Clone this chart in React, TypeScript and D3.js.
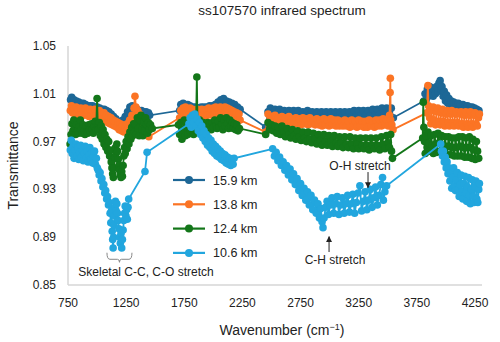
import React from 'react';
import * as d3 from 'd3';

// Infrared spectrum of particle ss107570 at four altitudes.

const WIDTH = 500;
const HEIGHT = 342;
const X_RANGE = [68, 475];
const Y_RANGE = [285, 46];

const X_TICKS = [750, 1250, 1750, 2250, 2750, 3250, 3750, 4250];
const Y_TICKS = [0.85, 0.89, 0.93, 0.97, 1.01, 1.05];

const SERIES_NAMES = ['15.9 km', '13.8 km', '12.4 km', '10.6 km'];
const SERIES_COLORS = ['#1d6796', '#fb7424', '#137619', '#22a6de'];

// [wavenumber, transmittance]
const KM_15_9: [number, number][] = [
  [772, 1.005], [782, 1.007], [792, 1.002], [802, 1.005], [812, 1.0], [822, 1.004], [832, 0.999], [842, 1.003],
  [852, 0.998], [862, 1.002], [872, 0.998], [882, 1.002], [892, 0.997], [902, 1.001], [912, 0.997], [922, 1.0],
  [932, 0.996], [942, 1.0], [952, 0.996], [962, 1.0], [972, 0.995], [982, 0.999], [992, 0.995], [1002, 0.999],
  [1012, 0.994], [1022, 0.998], [1032, 0.994], [1042, 0.997], [1052, 0.993], [1062, 0.997], [1072, 0.992],
  [1082, 0.996], [1092, 0.991], [1102, 0.995], [1112, 0.99], [1122, 0.993], [1132, 0.988], [1142, 0.991],
  [1152, 0.986], [1162, 0.989], [1172, 0.984], [1182, 0.987], [1192, 0.982], [1202, 0.986], [1212, 0.983],
  [1222, 0.988], [1232, 0.986], [1242, 0.991], [1252, 0.989], [1262, 0.995], [1272, 0.993], [1282, 0.999],
  [1292, 0.996], [1302, 1.0], [1312, 0.995], [1322, 0.998], [1332, 0.993], [1342, 0.997], [1352, 0.993],
  [1362, 0.996], [1372, 0.992], [1382, 0.996], [1392, 0.992], [1402, 0.995], [1412, 0.991], [1422, 0.995],
  [1432, 0.991], [1442, 0.994], [1452, 0.992],
  [1710, 0.996], [1720, 1.001], [1730, 0.997], [1740, 1.002], [1750, 0.997], [1760, 1.001], [1770, 0.997],
  [1780, 1.001], [1790, 0.996], [1800, 1.0], [1812, 0.996], [1824, 0.999], [1836, 0.995], [1848, 0.999],
  [1860, 0.995], [1872, 0.998], [1884, 0.995], [1896, 0.999], [1908, 0.995], [1920, 0.999], [1932, 0.995],
  [1944, 0.999], [1956, 0.996], [1968, 1.0], [1980, 0.996], [1992, 1.0], [2004, 0.996], [2016, 1.001],
  [2028, 0.997], [2040, 1.003], [2052, 0.998], [2064, 1.005], [2076, 0.999], [2088, 1.006], [2100, 1.0],
  [2112, 1.004], [2124, 0.999], [2136, 1.003], [2148, 0.998], [2160, 1.002], [2172, 0.997], [2184, 1.001],
  [2196, 0.996], [2208, 0.999], [2220, 0.995], [2230, 0.997],
  [2450, 0.982], [2470, 0.995], [2490, 0.998], [2510, 0.994], [2530, 0.997], [2550, 0.993], [2570, 0.997],
  [2590, 0.993], [2610, 0.996], [2630, 0.993], [2650, 0.996], [2670, 0.992], [2690, 0.996], [2710, 0.992],
  [2730, 0.996], [2750, 0.992], [2770, 0.995], [2790, 0.992], [2810, 0.996], [2830, 0.992], [2850, 0.995],
  [2870, 0.991], [2890, 0.995], [2910, 0.991], [2930, 0.995], [2950, 0.991], [2970, 0.995], [2990, 0.991],
  [3010, 0.995], [3030, 0.991], [3050, 0.995], [3070, 0.991], [3090, 0.995], [3110, 0.991], [3130, 0.995],
  [3150, 0.991], [3170, 0.995], [3190, 0.991], [3210, 0.996], [3230, 0.992], [3250, 0.996], [3270, 0.992],
  [3290, 0.996], [3310, 0.992], [3330, 0.996], [3350, 0.992], [3370, 0.997], [3390, 0.992], [3410, 0.997],
  [3430, 0.993], [3450, 0.998], [3470, 0.993], [3490, 0.998], [3510, 0.994], [3530, 0.998], [3548, 0.99],
  [3810, 1.004], [3820, 1.01], [3830, 1.005], [3840, 1.014], [3850, 1.008], [3860, 1.016], [3870, 1.009],
  [3880, 1.015], [3890, 1.008], [3900, 1.014], [3910, 1.01], [3920, 1.016], [3930, 1.012], [3940, 1.019],
  [3950, 1.021], [3958, 1.013], [3966, 1.016], [3976, 1.008], [3986, 1.012], [3996, 1.004], [4006, 1.009],
  [4016, 1.002], [4026, 1.006], [4036, 1.0], [4046, 1.004], [4056, 0.998], [4066, 1.003], [4076, 0.998],
  [4086, 1.002], [4096, 0.997], [4106, 1.002], [4116, 0.997], [4126, 1.001], [4136, 0.996], [4146, 1.001],
  [4156, 0.996], [4166, 1.0], [4176, 0.995], [4186, 1.0], [4196, 0.995], [4206, 0.999], [4216, 0.995],
  [4226, 0.999], [4236, 0.994], [4246, 0.998], [4256, 0.994], [4266, 0.997], [4276, 0.993], [4284, 0.996],
];

const KM_13_8: [number, number][] = [
  [770, 0.996], [780, 1.0], [790, 0.994], [800, 0.998], [810, 0.993], [820, 0.999], [830, 0.994], [840, 0.997],
  [850, 0.992], [860, 0.998], [870, 0.993], [880, 0.997], [890, 0.992], [900, 0.998], [910, 0.993], [920, 0.996],
  [930, 0.991], [940, 0.997], [950, 0.992], [960, 0.996], [970, 0.991], [980, 0.997], [990, 0.992], [1000, 0.995],
  [1010, 0.99], [1020, 0.996], [1030, 0.99], [1040, 0.994], [1050, 0.989], [1060, 0.994], [1070, 0.988],
  [1080, 0.992], [1090, 0.986], [1100, 0.991], [1110, 0.985], [1120, 0.99], [1130, 0.984], [1140, 0.988],
  [1150, 0.983], [1160, 0.987], [1170, 0.982], [1180, 0.986], [1190, 0.98], [1200, 0.985], [1210, 0.979],
  [1220, 0.984], [1230, 0.978], [1240, 0.983], [1250, 0.979], [1260, 0.985], [1270, 0.982], [1280, 0.988],
  [1290, 0.986], [1300, 0.992], [1310, 0.99], [1318, 0.998], [1326, 1.008], [1334, 0.999], [1342, 0.992],
  [1350, 0.996], [1358, 0.988], [1366, 0.993], [1374, 0.985], [1382, 0.99], [1390, 0.982], [1400, 0.986],
  [1410, 0.979], [1420, 0.983], [1430, 0.976], [1445, 0.974],
  [1710, 0.99], [1720, 0.996], [1730, 0.992], [1740, 0.998], [1750, 0.993], [1760, 0.999], [1770, 0.994],
  [1780, 0.997], [1790, 0.992], [1800, 0.998], [1810, 0.993], [1820, 0.997], [1830, 0.992], [1840, 0.996],
  [1850, 0.991], [1860, 0.997], [1870, 0.992], [1880, 0.996], [1890, 0.991], [1900, 0.997], [1910, 0.992],
  [1920, 0.996], [1930, 0.991], [1940, 0.997], [1950, 0.992], [1960, 0.998], [1970, 0.993], [1980, 0.997],
  [1990, 0.992], [2000, 0.998], [2010, 0.993], [2020, 0.999], [2030, 0.993], [2040, 0.998], [2050, 0.993],
  [2060, 0.999], [2070, 0.994], [2080, 0.998], [2090, 0.993], [2100, 0.999], [2110, 0.994], [2120, 0.998],
  [2130, 0.993], [2140, 0.997], [2150, 0.992], [2160, 0.996], [2170, 0.991], [2180, 0.995], [2190, 0.99],
  [2200, 0.994], [2210, 0.989], [2220, 0.993], [2230, 0.988],
  [2450, 0.978], [2470, 0.993], [2485, 0.987], [2500, 0.991], [2515, 0.986], [2530, 0.992], [2545, 0.987],
  [2560, 0.99], [2575, 0.985], [2590, 0.991], [2605, 0.986], [2620, 0.99], [2635, 0.985], [2650, 0.991],
  [2665, 0.986], [2680, 0.989], [2695, 0.985], [2710, 0.99], [2725, 0.985], [2740, 0.989], [2755, 0.984],
  [2770, 0.99], [2785, 0.985], [2800, 0.989], [2815, 0.984], [2830, 0.99], [2845, 0.985], [2860, 0.988],
  [2875, 0.984], [2890, 0.989], [2905, 0.984], [2920, 0.988], [2935, 0.983], [2950, 0.989], [2965, 0.984],
  [2980, 0.988], [2995, 0.983], [3010, 0.989], [3025, 0.984], [3040, 0.988], [3055, 0.983], [3070, 0.988],
  [3085, 0.983], [3100, 0.987], [3115, 0.983], [3130, 0.988], [3145, 0.983], [3160, 0.987], [3175, 0.982],
  [3190, 0.988], [3205, 0.983], [3220, 0.987], [3235, 0.982], [3250, 0.988], [3265, 0.983], [3280, 0.987],
  [3295, 0.982], [3310, 0.987], [3325, 0.982], [3340, 0.988], [3355, 0.983], [3370, 0.987], [3385, 0.982],
  [3400, 0.988], [3415, 0.983], [3430, 0.988], [3445, 0.983], [3460, 0.989], [3475, 0.984], [3490, 0.988],
  [3505, 0.983], [3515, 0.992], [3520, 1.011], [3522, 1.023], [3525, 0.988], [3535, 0.984], [3545, 0.98],
  [3835, 0.994], [3845, 1.017], [3850, 1.0], [3860, 0.99], [3870, 0.985], [3880, 0.996], [3890, 0.999],
  [3900, 0.988], [3910, 0.984], [3920, 0.995], [3930, 0.998], [3940, 0.987], [3950, 0.984], [3960, 0.994],
  [3970, 0.997], [3980, 0.987], [3990, 0.983], [4000, 0.993], [4010, 0.996], [4020, 0.986], [4030, 0.983],
  [4040, 0.993], [4050, 0.996], [4060, 0.986], [4070, 0.983], [4080, 0.993], [4090, 0.995], [4100, 0.986],
  [4110, 0.983], [4120, 0.993], [4130, 0.995], [4140, 0.985], [4150, 0.982], [4160, 0.992], [4170, 0.995],
  [4180, 0.985], [4190, 0.982], [4200, 0.992], [4210, 0.995], [4220, 0.985], [4230, 0.982], [4240, 0.992],
  [4250, 0.994], [4260, 0.985], [4270, 0.983], [4280, 0.99], [4288, 0.993],
];

const KM_12_4: [number, number][] = [
  [768, 0.968], [776, 0.976], [784, 0.985], [792, 0.979], [800, 0.988], [808, 0.981], [816, 0.976], [824, 0.984],
  [832, 0.979], [840, 0.977], [848, 0.983], [856, 0.988], [864, 0.98], [872, 0.977], [880, 0.984], [888, 0.979],
  [896, 0.976], [904, 0.983], [912, 0.978], [920, 0.977], [928, 0.984], [936, 0.98], [944, 0.978], [952, 0.985],
  [960, 0.98], [968, 0.977], [976, 0.983], [984, 0.987], [992, 0.98], [1000, 1.006], [1006, 0.985],
  [1012, 0.98], [1020, 0.986], [1028, 0.975], [1036, 0.983], [1044, 0.972], [1052, 0.98], [1060, 0.968],
  [1068, 0.976], [1076, 0.965], [1084, 0.972], [1092, 0.962], [1100, 0.97], [1108, 0.958], [1116, 0.963],
  [1122, 0.953], [1128, 0.948], [1134, 0.943], [1140, 0.94], [1146, 0.948], [1152, 0.957], [1158, 0.965],
  [1164, 0.96], [1170, 0.968], [1176, 0.962], [1182, 0.955], [1188, 0.95], [1194, 0.946], [1200, 0.942],
  [1206, 0.94], [1212, 0.945], [1218, 0.941], [1224, 0.95], [1230, 0.958], [1236, 0.965], [1242, 0.96],
  [1250, 0.97], [1258, 0.964], [1266, 0.974], [1274, 0.968], [1282, 0.978], [1290, 0.972], [1298, 0.982],
  [1306, 0.975], [1314, 0.985], [1322, 0.978], [1330, 0.985], [1338, 0.976], [1346, 0.99], [1354, 0.981],
  [1362, 0.975], [1370, 0.988], [1378, 0.992], [1386, 0.98], [1394, 0.975], [1402, 0.986], [1410, 0.979],
  [1418, 0.99], [1426, 0.984], [1434, 0.977], [1442, 0.986], [1450, 0.98], [1460, 0.984], [1475, 0.981],
  [1700, 0.984], [1710, 0.976], [1720, 0.986], [1730, 0.972], [1740, 0.98], [1750, 0.988], [1760, 0.975],
  [1770, 0.983], [1780, 0.976], [1790, 0.986], [1800, 0.979], [1810, 0.987], [1820, 0.98], [1830, 0.976],
  [1840, 0.984], [1850, 0.98], [1858, 1.024], [1864, 0.985], [1872, 0.982], [1882, 0.988], [1892, 0.983],
  [1902, 0.98], [1912, 0.986], [1922, 0.981], [1932, 0.984], [1942, 0.98], [1952, 0.986], [1962, 0.982],
  [1972, 0.985], [1982, 0.98], [1992, 0.986], [2002, 0.982], [2012, 0.988], [2022, 0.983], [2032, 0.981],
  [2042, 0.987], [2052, 0.982], [2062, 0.99], [2072, 0.984], [2082, 0.98], [2092, 0.988], [2102, 0.983],
  [2112, 0.99], [2122, 0.985], [2132, 0.981], [2142, 0.988], [2152, 0.983], [2162, 0.986], [2172, 0.981],
  [2182, 0.985], [2192, 0.98], [2202, 0.984], [2212, 0.979], [2225, 0.981],
  [2450, 0.976], [2470, 0.986], [2485, 0.98], [2500, 0.984], [2515, 0.979], [2530, 0.983], [2545, 0.977],
  [2560, 0.982], [2575, 0.976], [2590, 0.983], [2605, 0.978], [2620, 0.974], [2635, 0.981], [2650, 0.976],
  [2665, 0.973], [2680, 0.98], [2695, 0.975], [2710, 0.972], [2725, 0.979], [2740, 0.974], [2755, 0.971],
  [2770, 0.978], [2785, 0.973], [2800, 0.97], [2815, 0.978], [2830, 0.972], [2845, 0.969], [2860, 0.977],
  [2875, 0.972], [2890, 0.968], [2905, 0.976], [2920, 0.971], [2935, 0.967], [2950, 0.976], [2965, 0.97],
  [2980, 0.967], [2995, 0.975], [3010, 0.97], [3025, 0.966], [3040, 0.975], [3055, 0.969], [3070, 0.966],
  [3085, 0.974], [3100, 0.969], [3115, 0.965], [3130, 0.974], [3145, 0.968], [3160, 0.965], [3175, 0.974],
  [3190, 0.968], [3205, 0.964], [3220, 0.973], [3235, 0.968], [3250, 0.964], [3265, 0.973], [3280, 0.967],
  [3295, 0.964], [3310, 0.973], [3325, 0.967], [3340, 0.963], [3355, 0.973], [3370, 0.967], [3385, 0.964],
  [3400, 0.973], [3415, 0.967], [3430, 0.963], [3445, 0.974], [3460, 0.968], [3475, 0.964], [3490, 0.975],
  [3505, 0.969], [3515, 0.965], [3525, 0.976], [3532, 0.962], [3540, 0.956],
  [3800, 0.973], [3805, 1.003], [3810, 0.982], [3816, 0.97], [3822, 0.96], [3830, 0.975], [3838, 0.965],
  [3846, 0.978], [3854, 0.969], [3862, 0.962], [3872, 0.975], [3882, 0.967], [3892, 0.96], [3902, 0.976],
  [3912, 0.968], [3922, 0.961], [3932, 0.977], [3942, 0.969], [3952, 0.962], [3962, 0.975], [3972, 0.967],
  [3982, 0.96], [3992, 0.974], [4002, 0.966], [4012, 0.959], [4022, 0.974], [4032, 0.966], [4042, 0.959],
  [4052, 0.973], [4062, 0.965], [4072, 0.958], [4082, 0.973], [4092, 0.965], [4102, 0.958], [4112, 0.974],
  [4122, 0.966], [4132, 0.958], [4142, 0.974], [4152, 0.965], [4162, 0.957], [4172, 0.973], [4182, 0.965],
  [4192, 0.957], [4202, 0.974], [4212, 0.965], [4222, 0.956], [4232, 0.972], [4242, 0.963], [4252, 0.955],
  [4262, 0.97], [4272, 0.962], [4282, 0.956],
];

const KM_10_6: [number, number][] = [
  [770, 0.963], [778, 0.971], [786, 0.96], [794, 0.966], [802, 0.956], [810, 0.963], [818, 0.968], [826, 0.958],
  [834, 0.965], [842, 0.955], [850, 0.961], [858, 0.967], [866, 0.957], [874, 0.963], [882, 0.954], [890, 0.96],
  [898, 0.966], [906, 0.956], [914, 0.962], [922, 0.953], [930, 0.959], [938, 0.965], [946, 0.955], [954, 0.961],
  [962, 0.952], [970, 0.958], [978, 0.962], [986, 0.951], [994, 0.956], [1002, 0.948],
  [1010, 0.946], [1018, 0.942], [1026, 0.944], [1034, 0.937], [1042, 0.939], [1050, 0.932], [1058, 0.934],
  [1066, 0.927], [1074, 0.929], [1082, 0.922], [1090, 0.924], [1098, 0.917], [1106, 0.919], [1112, 0.91],
  [1118, 0.902], [1124, 0.912], [1130, 0.895], [1134, 0.888], [1138, 0.881], [1142, 0.89], [1146, 0.9],
  [1150, 0.908], [1154, 0.915], [1158, 0.92], [1164, 0.912], [1170, 0.918], [1176, 0.91], [1182, 0.904],
  [1188, 0.897], [1194, 0.89], [1200, 0.885], [1206, 0.893], [1212, 0.881], [1218, 0.888], [1224, 0.896],
  [1230, 0.904], [1236, 0.91], [1242, 0.916], [1248, 0.908], [1254, 0.913], [1260, 0.905], [1266, 0.915],
  [1272, 0.922], [1412, 0.945], [1430, 0.961],
  [1790, 0.985], [1800, 0.99], [1810, 0.982], [1820, 0.992], [1830, 0.986], [1840, 0.993], [1850, 0.983],
  [1860, 0.989], [1870, 0.979], [1880, 0.986], [1890, 0.976], [1900, 0.983], [1910, 0.973], [1920, 0.979],
  [1930, 0.97], [1940, 0.976], [1950, 0.967], [1960, 0.973], [1970, 0.965], [1980, 0.971], [1990, 0.962],
  [2000, 0.968], [2010, 0.96], [2020, 0.966], [2030, 0.958], [2040, 0.964], [2050, 0.957], [2060, 0.962],
  [2070, 0.955], [2080, 0.96], [2090, 0.954], [2100, 0.959], [2110, 0.952], [2120, 0.957], [2130, 0.951],
  [2140, 0.956], [2150, 0.95], [2160, 0.955], [2170, 0.951], [2178, 0.956],
  [2510, 0.964], [2525, 0.958], [2540, 0.961], [2555, 0.954], [2570, 0.957], [2585, 0.95], [2600, 0.953],
  [2615, 0.946], [2630, 0.95], [2645, 0.942], [2660, 0.947], [2675, 0.938], [2690, 0.943], [2705, 0.934],
  [2720, 0.939], [2735, 0.929], [2750, 0.935], [2765, 0.925], [2780, 0.931], [2795, 0.921], [2810, 0.928],
  [2825, 0.917], [2840, 0.925], [2855, 0.913], [2870, 0.921], [2885, 0.91], [2900, 0.918], [2912, 0.906],
  [2925, 0.914], [2935, 0.903], [2943, 0.898], [2952, 0.906], [2965, 0.915], [2978, 0.92], [2990, 0.909],
  [3005, 0.917], [3020, 0.923], [3035, 0.91], [3050, 0.918], [3065, 0.924], [3080, 0.909], [3095, 0.917],
  [3110, 0.923], [3125, 0.91], [3140, 0.918], [3155, 0.925], [3170, 0.911], [3185, 0.918], [3200, 0.926],
  [3215, 0.91], [3230, 0.919], [3245, 0.927], [3260, 0.933], [3275, 0.912], [3290, 0.92], [3305, 0.928],
  [3320, 0.913], [3335, 0.921], [3350, 0.93], [3365, 0.915], [3380, 0.923], [3395, 0.932], [3410, 0.917],
  [3425, 0.925], [3440, 0.934], [3455, 0.94], [3462, 0.921], [3475, 0.928], [3490, 0.933],
  [3955, 0.968], [3962, 0.962], [3970, 0.958], [3978, 0.962], [3986, 0.953], [3994, 0.957], [4002, 0.948],
  [4010, 0.953], [4018, 0.943], [4026, 0.948], [4034, 0.937], [4042, 0.944], [4050, 0.931], [4058, 0.94],
  [4066, 0.948], [4074, 0.933], [4082, 0.929], [4090, 0.938], [4098, 0.944], [4106, 0.93], [4114, 0.924],
  [4122, 0.934], [4130, 0.942], [4138, 0.928], [4146, 0.922], [4154, 0.935], [4162, 0.941], [4170, 0.927],
  [4178, 0.92], [4186, 0.932], [4194, 0.94], [4202, 0.925], [4210, 0.918], [4218, 0.93], [4226, 0.938],
  [4234, 0.924], [4242, 0.919], [4250, 0.932], [4258, 0.937], [4266, 0.922], [4274, 0.919], [4282, 0.93],
  [4288, 0.935],
];

const SERIES = [KM_15_9, KM_13_8, KM_12_4, KM_10_6];

const FONT = '"Liberation Sans", Arial, Helvetica, sans-serif';

export default function App() {
  const x = d3.scaleLinear().domain([750, 4250]).range(X_RANGE);
  const y = d3.scaleLinear().domain([0.85, 1.05]).range(Y_RANGE);
  const line = d3
    .line<[number, number]>()
    .x((d) => x(d[0]))
    .y((d) => y(d[1]));

  // annotation anchors, in data units
  const brace = { x0: x(1085), x1: x(1300), top: y(0.877), bot: y(0.869) };
  const braceMid = (brace.x0 + brace.x1) / 2;
  const braceLow = brace.bot - 3;
  const bracePath = `M${brace.x0},${brace.top} Q${brace.x0},${braceLow} ${brace.x0 + 3},${braceLow}
    L${braceMid - 2},${braceLow} Q${braceMid},${braceLow} ${braceMid},${brace.bot}
    Q${braceMid},${braceLow} ${braceMid + 2},${braceLow} L${brace.x1 - 3},${braceLow}
    Q${brace.x1},${braceLow} ${brace.x1},${brace.top}`;

  return (
    <svg
      width={WIDTH}
      height={HEIGHT}
      viewBox={`0 0 ${WIDTH} ${HEIGHT}`}
      style={{ position: 'absolute', left: 0, top: 0, background: '#fff' }}
      fontFamily={FONT}
    >
      <defs>
        <marker id="arrow" viewBox="0 0 10 10" refX="9" refY="5" markerWidth="6" markerHeight="6" orient="auto">
          <path d="M0,0 L10,5 L0,10 z" fill="#222" />
        </marker>
      </defs>

      <text x={282} y={15} textAnchor="middle" fontSize={13.5} fill="#222">
        ss107570 infrared spectrum
      </text>

      {/* axes */}
      <line x1={X_RANGE[0]} x2={X_RANGE[0]} y1={Y_RANGE[1]} y2={Y_RANGE[0]} stroke="#d6d6d6" strokeWidth={1.5} />
      <line x1={X_RANGE[0]} x2={482} y1={Y_RANGE[0]} y2={Y_RANGE[0]} stroke="#d6d6d6" strokeWidth={1.5} />

      {Y_TICKS.map((t) => (
        <text key={`y${t}`} x={56} y={y(t) + 4} textAnchor="end" fontSize={12} fill="#222">
          {t.toFixed(2)}
        </text>
      ))}
      {X_TICKS.map((t) => (
        <text key={`x${t}`} x={x(t)} y={307} textAnchor="middle" fontSize={12} fill="#222">
          {t}
        </text>
      ))}

      <text transform={`translate(18,${(Y_RANGE[0] + Y_RANGE[1]) / 2}) rotate(-90)`} textAnchor="middle" fontSize={14} fill="#222">
        Transmittance
      </text>
      <text x={282} y={335} textAnchor="middle" fontSize={14} fill="#222">
        Wavenumber (cm<tspan dy={-5} fontSize={9}>−1</tspan><tspan dy={5}>)</tspan>
      </text>

      {/* series */}
      {SERIES.map((data, i) => (
        <g key={SERIES_NAMES[i]}>
          <path d={line(data) ?? ''} fill="none" stroke={SERIES_COLORS[i]} strokeWidth={1.8} />
          {data.map((d, j) => (
            <circle key={j} cx={x(d[0])} cy={y(d[1])} r={3.8} fill={SERIES_COLORS[i]} />
          ))}
        </g>
      ))}

      {/* legend */}
      {SERIES_NAMES.map((name, i) => {
        const ly = 180 + i * 24.3;
        return (
          <g key={`lg${name}`}>
            <line x1={173} x2={205} y1={ly} y2={ly} stroke={SERIES_COLORS[i]} strokeWidth={2.2} />
            <circle cx={189} cy={ly} r={4} fill={SERIES_COLORS[i]} />
            <text x={213} y={ly + 4.5} fontSize={12.5} fill="#222">
              {name}
            </text>
          </g>
        );
      })}

      {/* annotations */}
      <path d={bracePath} fill="none" stroke="#888" strokeWidth={1} />
      <text x={x(1421)} y={y(0.8575)} textAnchor="middle" fontSize={12} fill="#222">
        Skeletal C-C, C-O stretch
      </text>

      <line x1={x(2995)} x2={x(2995)} y1={y(0.8776)} y2={y(0.8905)} stroke="#222" strokeWidth={1} markerEnd="url(#arrow)" />
      <text x={x(3046)} y={y(0.8675)} textAnchor="middle" fontSize={12} fill="#222">
        C-H stretch
      </text>

      <line x1={x(3330)} x2={x(3330)} y1={y(0.9445)} y2={y(0.9315)} stroke="#222" strokeWidth={1} markerEnd="url(#arrow)" />
      <text x={x(3261)} y={y(0.946)} textAnchor="middle" fontSize={12} fill="#222">
        O-H stretch
      </text>
    </svg>
  );
}
